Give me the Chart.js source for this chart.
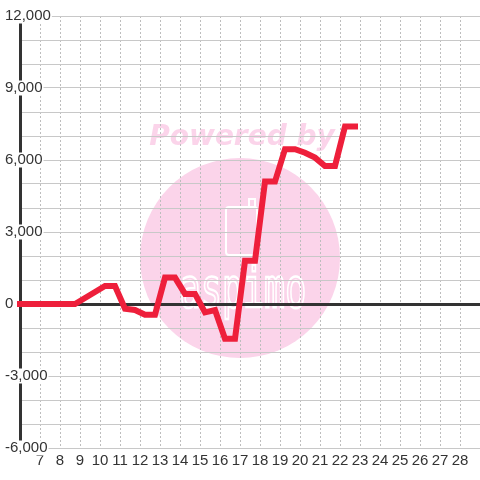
<!DOCTYPE html>
<html>
<head>
<meta charset="utf-8">
<script src="https://cdn.jsdelivr.net/npm/chart.js@4.4.0/dist/chart.umd.min.js"></script>
<style>
	html, body { margin: 0; padding: 0; background: #fff; }
	#wrap { width: 480px; height: 480px; }
</style>
</head>
<body>
<div id="wrap"><canvas id="chart" width="480" height="480"></canvas></div>
<script>
// two readings a day (x = day of month), balance in yen
var times = [6.0, 8.75, 9.25, 9.75, 10.25, 10.75, 11.25, 11.75, 12.25, 12.75,
	13.25, 13.75, 14.25, 14.75, 15.25, 15.75, 16.25, 16.75, 17.25, 17.75,
	18.25, 18.75, 19.25, 19.75, 20.25, 20.75, 21.25, 21.75, 22.25, 22.75];
var balance = [0, 0, 250, 500, 750, 750, -200, -250, -450, -450,
	1100, 1100, 420, 420, -350, -250, -1450, -1450, 1800, 1800,
	5100, 5100, 6450, 6450, 6300, 6100, 5750, 5750, 7400, 7400];

var dayLabels = [7, 8, 9, 10, 11, 12, 13, 14, 15, 16, 17, 18, 19, 20, 21, 22, 23, 24, 25, 26, 27, 28];
var yLabels = [-6000, -3000, 0, 3000, 6000, 9000, 12000];

var points = times.map(function (t, i) { return {x: t, y: balance[i]}; });

var fontFamily = "'Liberation Sans', Arial, sans-serif";

var watermark = {
	id: 'watermark',
	beforeDraw: function (chart)
	{
		var ctx = chart.ctx;
		ctx.save();
		ctx.fillStyle = '#fff';
		ctx.fillRect(0, 0, chart.width, chart.height);

		ctx.fillStyle = '#fbd4ea';
		ctx.beginPath();
		ctx.arc(240, 258, 100, 0, Math.PI * 2);
		ctx.fill();

		ctx.font = "italic bold 28px 'DejaVu Sans'";
		ctx.textAlign = 'center';
		ctx.fillText('Powered by', 242, 145);

		ctx.strokeStyle = '#fff';
		ctx.lineWidth = 2;
		ctx.beginPath();
		ctx.roundRect(226, 207, 31, 48, 3);
		ctx.stroke();
		ctx.beginPath();
		ctx.moveTo(249, 207);
		ctx.lineTo(249, 199);
		ctx.lineTo(255, 199);
		ctx.lineTo(255, 207);
		ctx.stroke();

		// logo lettering, stretched upward
		ctx.translate(243, 307);
		ctx.scale(1, 1.6);
		ctx.lineWidth = 1.5;
		ctx.font = "35px 'DejaVu Sans Mono'";
		ctx.strokeText('aspimo', 0, 0);
		ctx.restore();
	}
};

new Chart(document.getElementById('chart'), {
	type: 'line',
	data: {
		datasets: [{
			data: points,
			borderColor: '#ee1f3b',
			borderWidth: 6,
			borderCapStyle: 'square',
			borderJoinStyle: 'miter',
			pointRadius: 0,
			tension: 0,
			fill: false,
			clip: false
		}]
	},
	options: {
		responsive: false,
		animation: false,
		layout: {padding: {left: 5, top: 16, right: 0, bottom: 7}},
		plugins: {legend: {display: false}, tooltip: {enabled: false}},
		scales: {
			x: {
				type: 'linear',
				min: 6,
				max: 29,
				grid: {color: '#bdbdbd', lineWidth: 1, drawTicks: false},
				border: {display: false, dash: [2, 2]},
				ticks: {
					stepSize: 1,
					autoSkip: false,
					maxRotation: 0,
					padding: 0,
					color: '#333',
					font: {family: fontFamily, size: 15, lineHeight: '25px'},
					callback: function (v) { return dayLabels.indexOf(v) >= 0 ? String(v) : ''; }
				}
			},
			y: {
				min: -6000,
				max: 12000,
				afterFit: function (scale)
				{
					// labels sit over the axis line, so the scale stays narrow and unclipped
					scale.width = 15;
					scale._computeLabelArea = function () { return undefined; };
				},
				grid: {
					drawTicks: false,
					color: function (c) { return c.tick && c.tick.value === 0 ? '#333' : '#c8c8c8'; },
					lineWidth: function (c) { return c.tick && c.tick.value === 0 ? 3 : 1; }
				},
				border: {display: true, color: '#333', width: 3},
				ticks: {
					stepSize: 1000,
					autoSkip: false,
					crossAlign: 'far',
					padding: 0,
					color: '#333',
					font: {family: fontFamily, size: 15, lineHeight: 1},
					showLabelBackdrop: function (c) { return yLabels.indexOf(c.tick.value) >= 0; },
					backdropColor: '#fff',
					backdropPadding: {top: 0, bottom: 0, left: 1, right: 1},
					callback: function (v) { return yLabels.indexOf(v) >= 0 ? v.toLocaleString('en-US') : ''; }
				}
			}
		}
	},
	plugins: [watermark]
});
</script>
</body>
</html>
